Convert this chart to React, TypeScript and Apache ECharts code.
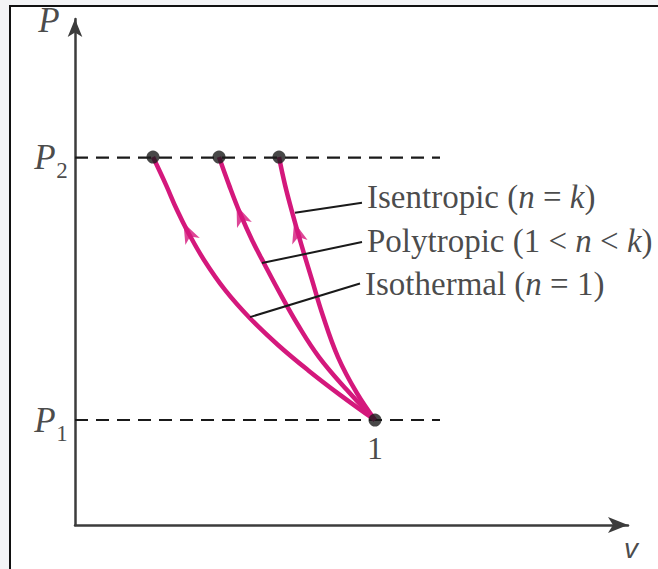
import React, { useEffect, useRef } from "react";
import * as echarts from "echarts";

// ---- data (v in arbitrary specific-volume units, P in arbitrary pressure units) ----
const pressureLevels = [2, 7]; // P1, P2
const pressureSubscripts = ["1", "2"];
const dashEndV = 7.3;
const axisMaxV = 11.06;
const axisMaxP = 9.64;

const state1 = [6.0, 2.0];

const isothermal = [
  [1.56, 7.01], [1.82, 6.48], [2.04, 6.0], [2.26, 5.58], [2.58, 5.05],
  [3.0, 4.48], [3.5, 3.94], [4.06, 3.43], [4.66, 2.95], [5.3, 2.48], [6.0, 2.0],
];
const polytropic = [
  [2.88, 7.01], [3.08, 6.48], [3.3, 5.94], [3.54, 5.43], [3.8, 4.95],
  [4.12, 4.38], [4.46, 3.81], [4.88, 3.2], [5.44, 2.57], [6.0, 2.0],
];
const isentropic = [
  [4.08, 7.01], [4.2, 6.48], [4.36, 5.9], [4.53, 5.33], [4.74, 4.67],
  [4.94, 4.04], [5.26, 3.2], [5.64, 2.51], [6.0, 2.0],
];

const arrowPoints = [
  [2.26, 5.58],
  [3.31, 5.9],
  [4.44, 5.58],
];
const arrowAngles = [26, 22, 16];

const leaderIsentropic = [[4.4, 5.95], [5.74, 6.14]];
const leaderPolytropic = [[3.74, 4.99], [5.74, 5.39]];
const leaderIsothermal = [[3.5, 3.96], [5.7, 4.6]];

const processLabels = [
  "{r|Isentropic (}{i|n}{r| = }{i|k}{r|)}",
  "{r|Polytropic (1 < }{i|n}{r| < }{i|k}{r|)}",
  "{r|Isothermal (}{i|n}{r| = 1)}",
];
const labelOffsets = [[0, -6], [0, -1.5], [0, 0]];

const MAGENTA = "#d4187c";
const INK = "#1a1a1a";
const SERIF = "'Liberation Serif', 'Times New Roman', serif";
const ARROW_HEAD = "path://M7,0 L14,19 L7,14 L0,19 Z";

function buildOption() {
  const curves = [isothermal, polytropic, isentropic];
  const leaders = [leaderIsentropic, leaderPolytropic, leaderIsothermal];

  const series: any[] = [];

  pressureLevels.forEach((p, i) => {
    series.push({
      type: "line",
      name: "P" + pressureSubscripts[i],
      data: [[0, p], [dashEndV, p]],
      symbol: "none",
      silent: true,
      clip: false,
      z: 1,
      lineStyle: { color: INK, width: 2.2, type: [13, 8] },
    });
  });

  curves.forEach((c) => {
    series.push({
      type: "line",
      data: c,
      smooth: 0.4,
      symbol: "none",
      silent: true,
      clip: false,
      z: 2,
      lineStyle: { color: MAGENTA, width: 4.5 },
    });
  });

  leaders.forEach((l) => {
    series.push({
      type: "line",
      data: l,
      symbol: "none",
      silent: true,
      clip: false,
      z: 3,
      lineStyle: { color: INK, width: 2 },
    });
  });

  series.push({
    type: "scatter",
    data: arrowPoints.map((p, i) => ({ value: p, symbolRotate: arrowAngles[i] })),
    symbol: ARROW_HEAD,
    symbolSize: [16, 21],
    silent: true,
    clip: false,
    z: 4,
    itemStyle: { color: MAGENTA },
  });

  const dots = [isothermal[0], polytropic[0], isentropic[0]];
  series.push({
    type: "scatter",
    data: [
      ...dots.map((d) => ({ value: d })),
      {
        value: state1,
        label: {
          show: true,
          formatter: "1",
          position: "inside",
          offset: [0, 28],
          fontFamily: SERIF,
          fontSize: 32,
          color: INK,
        },
      },
    ],
    symbol: "circle",
    symbolSize: 13,
    silent: true,
    clip: false,
    z: 5,
    itemStyle: { color: INK },
  });

  const leaderEnds = leaders.map((l) => l[1]);
  series.push({
    type: "scatter",
    data: leaderEnds.map((e, i) => ({
      value: e,
      label: {
        show: true,
        formatter: processLabels[i],
        position: "right",
        distance: 5,
        offset: labelOffsets[i],
        rich: {
          r: { fontFamily: SERIF, fontSize: 33, color: INK },
          i: { fontFamily: SERIF, fontSize: 33, fontStyle: "italic", color: INK },
        },
      },
    })),
    symbolSize: 0,
    silent: true,
    clip: false,
    z: 6,
  });

  // P axis level labels
  series.push({
    type: "scatter",
    data: pressureLevels.map((p) => [0, p]),
    symbolSize: 0,
    silent: true,
    clip: false,
    z: 6,
    label: {
      show: true,
      formatter: "P",
      position: "inside",
      offset: [-30, 0],
      fontFamily: SERIF,
      fontStyle: "italic",
      fontSize: 35,
      color: INK,
    },
  });
  series.push({
    type: "scatter",
    data: pressureLevels.map((p, i) => ({
      value: [0, p],
      label: { formatter: pressureSubscripts[i] },
    })),
    symbolSize: 0,
    silent: true,
    clip: false,
    z: 6,
    label: {
      show: true,
      position: "inside",
      offset: [-13, 13],
      fontFamily: SERIF,
      fontSize: 23,
      color: INK,
    },
  });

  // axis names
  series.push({
    type: "scatter",
    data: [
      {
        value: [0, axisMaxP],
        label: {
          formatter: "P",
          offset: [-26, 1],
          fontFamily: SERIF,
          fontStyle: "italic",
          fontSize: 35,
        },
      },
      {
        value: [axisMaxV, 0],
        label: {
          formatter: "v",
          offset: [3, 23],
          fontFamily: "'Liberation Sans', sans-serif",
          fontStyle: "italic",
          fontWeight: "lighter",
          fontSize: 28,
        },
      },
    ],
    symbolSize: 0,
    silent: true,
    clip: false,
    z: 6,
    label: { show: true, position: "inside", color: INK },
  });

  return {
    animation: false,
    backgroundColor: "transparent",
    grid: { left: 75, right: 30, top: 19, bottom: 44, containLabel: false },
    xAxis: {
      type: "value",
      min: 0,
      max: axisMaxV,
      axisLine: {
        show: true,
        onZero: false,
        symbol: ["none", "arrow"],
        symbolSize: [12, 20],
        lineStyle: { color: "#3c3c3c", width: 2.5 },
      },
      axisTick: { show: false },
      axisLabel: { show: false },
      splitLine: { show: false },
    },
    yAxis: {
      type: "value",
      min: 0,
      max: axisMaxP,
      axisLine: {
        show: true,
        onZero: false,
        symbol: ["none", "arrow"],
        symbolSize: [11, 18],
        lineStyle: { color: "#3c3c3c", width: 2.5 },
      },
      axisTick: { show: false },
      axisLabel: { show: false },
      splitLine: { show: false },
    },
    series,
  };
}

export default function App() {
  const ref = useRef<HTMLDivElement>(null);
  useEffect(() => {
    if (!ref.current) return;
    const chart = echarts.init(ref.current, null, { renderer: "svg", width: 658, height: 569 });
    chart.setOption(buildOption() as any);
    return () => chart.dispose();
  }, []);
  return (
    <div
      style={{
        position: "fixed",
        left: 0,
        top: 0,
        width: 658,
        height: 569,
        background: "#f3f4f6",
        overflow: "hidden",
      }}
    >
      <div
        style={{
          position: "absolute",
          left: 9,
          top: 5,
          width: 700,
          height: 600,
          background: "#ffffff",
          borderLeft: "2px solid #111",
          borderTop: "2px solid #111",
        }}
      />
      <div ref={ref} style={{ position: "absolute", left: 0, top: 0, width: 658, height: 569 }} />
    </div>
  );
}
